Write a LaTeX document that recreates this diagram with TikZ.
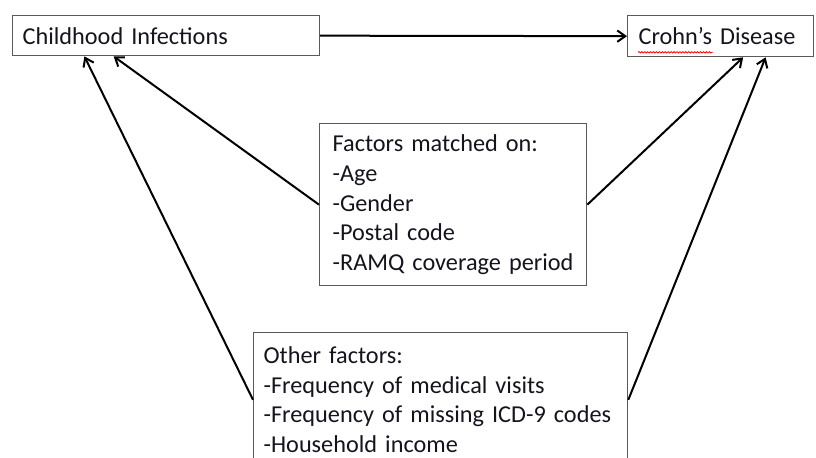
\documentclass[tikz,border=0pt]{standalone}
\usepackage{fontspec}
\setmainfont{Carlito}
\usepackage{xcolor}
\usepackage{tikz}
\usetikzlibrary{arrows.meta, positioning, calc, decorations.pathmorphing}
\definecolor{boxline}{RGB}{90,90,90}
\definecolor{inktext}{RGB}{20,20,30}

\begin{document}
\begin{tikzpicture}[
  x=0.75pt, y=-0.75pt,
  box/.style={draw=boxline, line width=1pt, anchor=north west, align=left,
              font=\fontsize{18.2}{22.3}\selectfont, text=inktext},
  arr/.style={-{Straight Barb[length=6pt,width=8.5pt]}, line width=1.5pt}
]
\useasboundingbox (0,0) rectangle (816,457);

\node[box, minimum height=30pt, text width=215pt, inner xsep=7.5pt, inner ysep=0pt]
  (infect) at (12,15) {Childhood Infections};
\node[box, minimum height=30.75pt, text width=123pt, inner xsep=8.25pt, inner ysep=0pt]
  (crohn) at (627,15) {Crohn’s Disease};
\node[box, minimum height=121.5pt, text width=180.75pt, inner xsep=9.75pt, inner ysep=0pt]
  (matched) at (319,123) {Factors matched on:\\-Age\\-Gender\\-Postal code\\-RAMQ coverage period};
\node[box, text width=265.5pt, inner xsep=7.5pt, inner ysep=10.5pt]
  (other) at (253,332) {Other factors:\\-Frequency of medical visits\\-Frequency of missing ICD-9 codes\\-Household income};

% spell-check mark under the word
\draw[red, line width=0.6pt, decorate, decoration={snake, amplitude=0.5pt, segment length=2.2pt}]
  ($(crohn.south west)+(11,-5)$) -- ($(crohn.south west)+(86,-5)$);

\draw[arr] (infect.east) -- (crohn.west);
\draw[arr] (matched.west) -- ($(infect.south west)!0.33!(infect.south east)$);
\draw[arr] (matched.east) -- ($(crohn.south west)!0.62!(crohn.south east)$);
\draw[arr] (other.west) -- ($(infect.south west)!0.235!(infect.south east)$);
\draw[arr] (other.east) -- ($(crohn.south west)!0.74!(crohn.south east)$);
\end{tikzpicture}
\end{document}
